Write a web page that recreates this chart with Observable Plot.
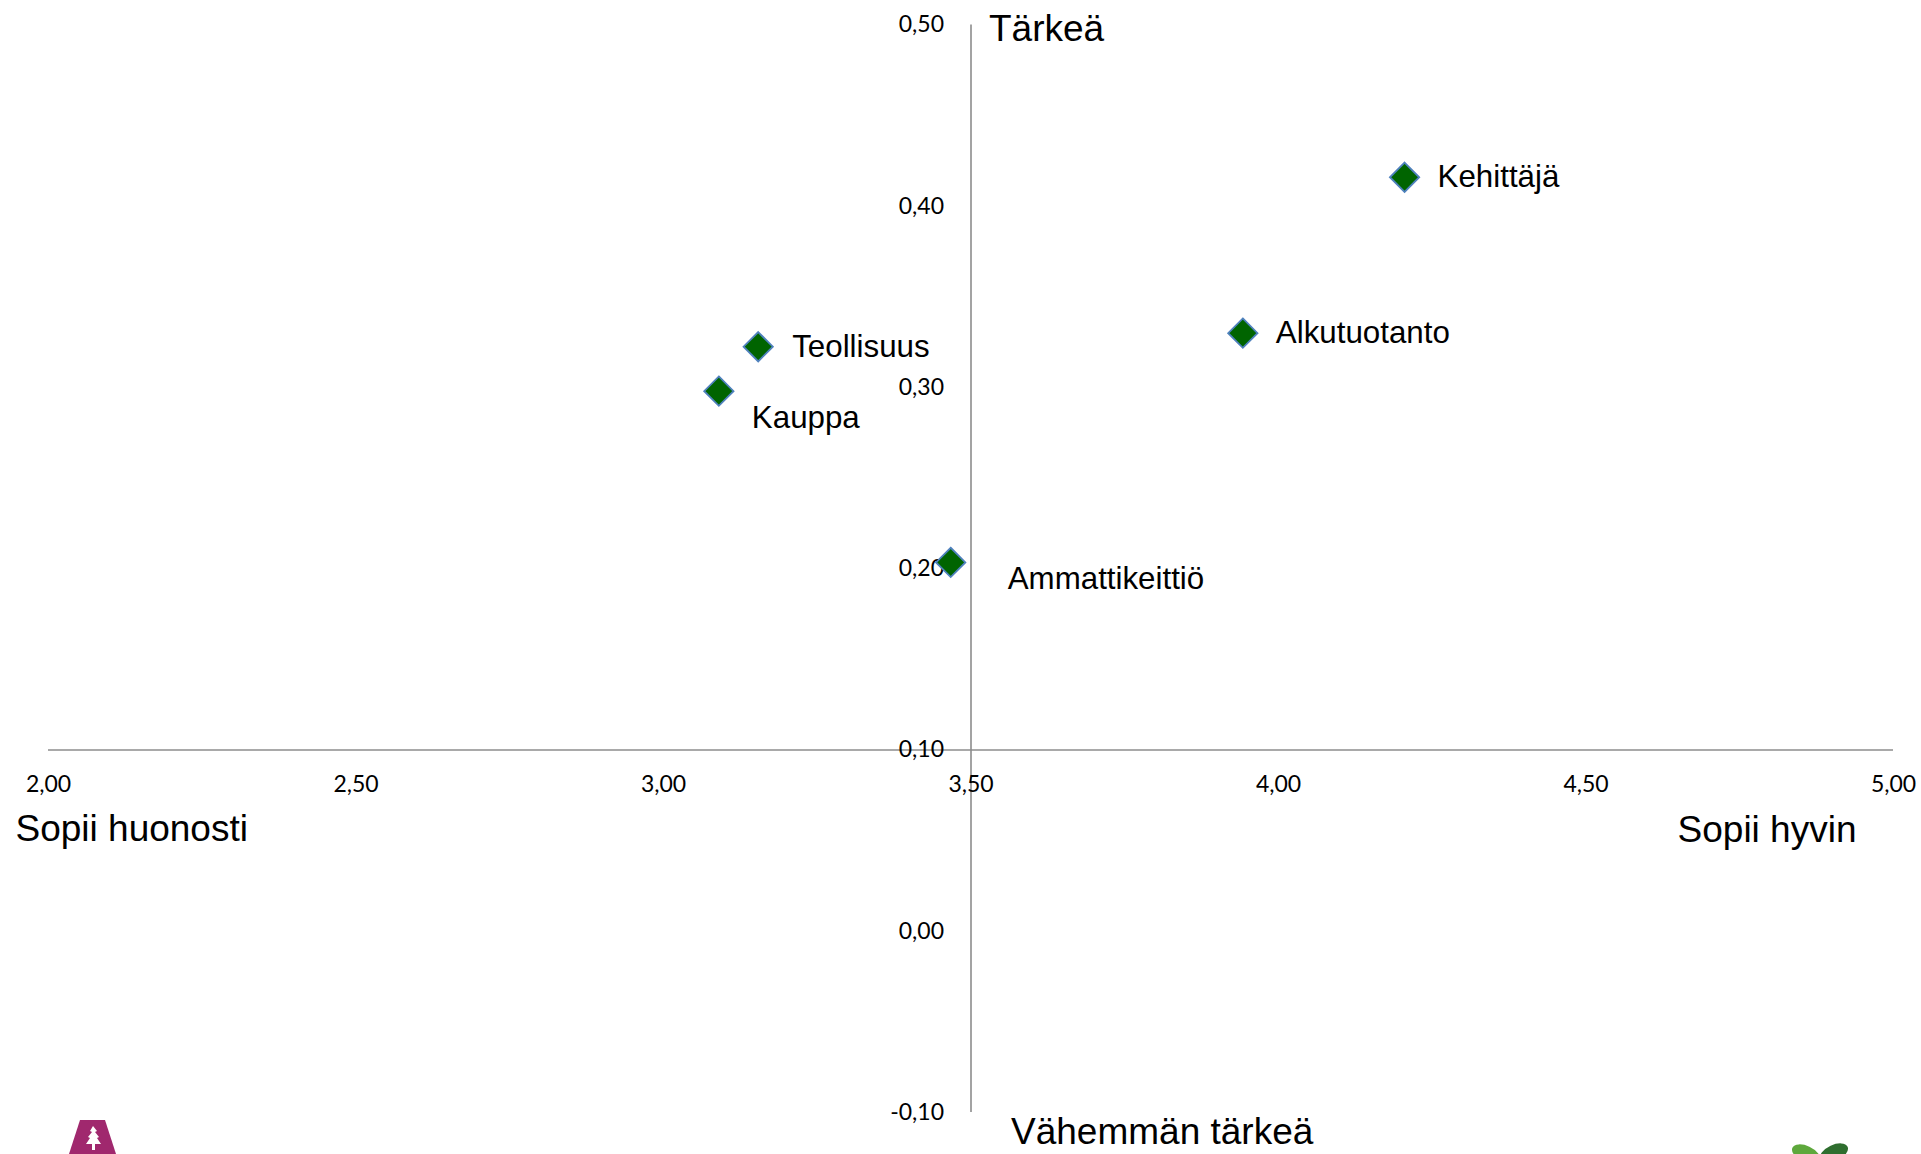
<!DOCTYPE html>
<html>
<head>
<meta charset="utf-8">
<script src="https://cdn.jsdelivr.net/npm/d3@7"></script>
<script src="https://cdn.jsdelivr.net/npm/@observablehq/plot@0.6"></script>
<style>
  html, body { margin: 0; padding: 0; background: #fff; }
  #wrap { position: relative; width: 1921px; height: 1154px; overflow: hidden; }
  #logos { position: absolute; left: 0; top: 0; pointer-events: none; }
</style>
</head>
<body>
<div id="wrap">
  <div id="chart"></div>
  <svg id="logos" width="1921" height="1154">
    <polygon points="80,1120 105,1120 116,1154 69,1154" fill="#a0286e"/>
    <path d="M93,1126 l4,5 -2,1 4,5 -2,1 4,6 -6,0 0,6 -3,0 0,-6 -6,0 4,-6 -2,-1 4,-5 -2,-1z" fill="#fff"/>
    <ellipse cx="1806" cy="1154" rx="15" ry="8" transform="rotate(25 1806 1154)" fill="#5ea83c"/>
    <ellipse cx="1834" cy="1153" rx="15" ry="8" transform="rotate(-25 1834 1153)" fill="#2f6e2f"/>
  </svg>
</div>
<script>
// ---- data ----
const categories = ["Kehittäjä", "Alkutuotanto", "Teollisuus", "Kauppa", "Ammattikeittiö"];
const fitValues = [4.205, 3.942, 3.154, 3.090, 3.467];          // x: Sopii huonosti -> Sopii hyvin
const importanceValues = [0.416, 0.330, 0.3225, 0.298, 0.2035]; // y: Vähemmän tärkeä -> Tärkeä

const xTicks = [2.0, 2.5, 3.0, 3.5, 4.0, 4.5, 5.0];
const yTicks = [0.5, 0.4, 0.3, 0.2, 0.1, 0.0, -0.1];

const xCross = 3.5;   // where the vertical axis crosses
const yCross = 0.10;  // where the horizontal axis crosses

const axisTitles = ["Tärkeä", "Vähemmän tärkeä", "Sopii huonosti", "Sopii hyvin"];

// ---- build ----
const fmt = v => v.toFixed(2).replace(".", ",");
const points = categories.map((c, i) => ({name: c, x: fitValues[i], y: importanceValues[i]}));

// label placement (pixels) per category
const labelOffset = {
  "Kehittäjä": [33, 0],
  "Alkutuotanto": [33, 0],
  "Teollisuus": [34, 0],
  "Kauppa": [33, 27],
  "Ammattikeittiö": [57, 17]
};

const labelFont = "'Liberation Sans', Arial, sans-serif";
const tickFont = "Lato, 'Open Sans', sans-serif";

const titleSpecs = [
  {text: axisTitles[0], x: xCross, y: yTicks[0], dx: 18, dy: 4, anchor: "start"},
  {text: axisTitles[1], x: xCross, y: yTicks[yTicks.length - 1], dx: 40, dy: 20, anchor: "start"},
  {text: axisTitles[2], x: xTicks[0], y: yCross, dx: -33, dy: 79, anchor: "start"},
  {text: axisTitles[3], x: xTicks[xTicks.length - 1], y: yCross, dx: -37, dy: 80, anchor: "end"}
];

const chart = Plot.plot({
  width: 1921,
  height: 1154,
  marginLeft: 48,
  marginRight: 28,
  marginTop: 24.5,
  marginBottom: 42,
  x: {domain: [2, 5], axis: null},
  y: {domain: [-0.1, 0.5], axis: null},
  style: {background: "white", overflow: "visible"},
  marks: [
    // axes lines
    Plot.ruleY([yCross], {x1: 2, x2: 5, stroke: "#8c8c8c", strokeWidth: 1.6}),
    Plot.ruleX([xCross], {y1: -0.1, y2: 0.5, stroke: "#8c8c8c", strokeWidth: 1.6}),
    // x tick labels
    Plot.text(xTicks, {x: d => d, y: () => yCross, text: d => fmt(d), dy: 35,
      fontFamily: tickFont, fontSize: 23, fill: "#000"}),
    // y tick labels
    Plot.text(yTicks, {x: () => xCross, y: d => d, text: d => fmt(d), dx: -27, textAnchor: "end",
      fontFamily: tickFont, fontSize: 23, fill: "#000"}),
    // points
    Plot.dot(points, {x: "x", y: "y", symbol: "diamond2", r: 13.2,
      fill: "#006400", stroke: "#4f81bd", strokeWidth: 1.8}),
    // point labels
    ...points.map(p => Plot.text([p], {x: "x", y: "y", text: "name",
      dx: labelOffset[p.name][0], dy: labelOffset[p.name][1], textAnchor: "start",
      fontFamily: labelFont, fontSize: 31.3, fill: "#000"})),
    // axis titles
    ...titleSpecs.map(t => Plot.text([t], {x: "x", y: "y", text: "text", dx: t.dx, dy: t.dy,
      textAnchor: t.anchor, fontFamily: labelFont, fontSize: 37, fill: "#000"}))
  ]
});
document.getElementById("chart").appendChild(chart);
</script>
</body>
</html>
